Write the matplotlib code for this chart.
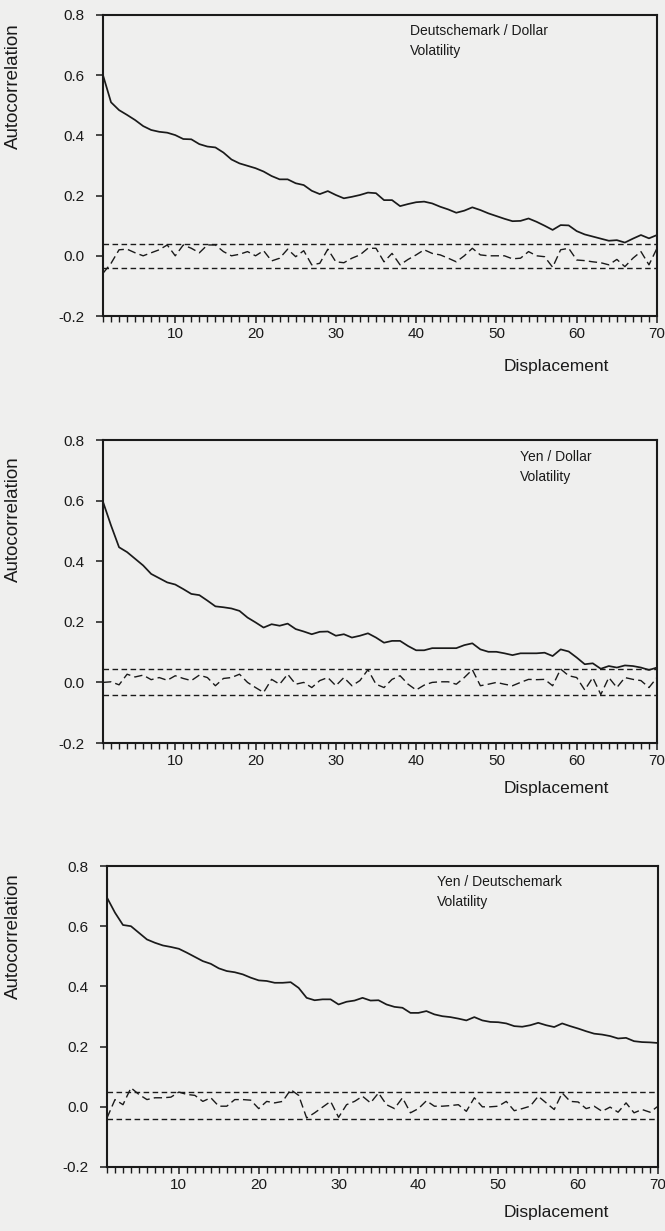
import numpy as np
import matplotlib
matplotlib.use("Agg")
import matplotlib.pyplot as plt
from matplotlib.ticker import MultipleLocator, FormatStrFormatter

plt.rcParams['font.family'] = ['Liberation Sans', 'DejaVu Sans']

lags = list(range(1, 71))

dm_usd_vol = [0.600, 0.510, 0.484, 0.468, 0.451, 0.431, 0.418, 0.412, 0.409, 0.401,
              0.388, 0.387, 0.371, 0.363, 0.360, 0.343, 0.320, 0.307, 0.299, 0.291,
              0.280, 0.265, 0.254, 0.254, 0.241, 0.235, 0.216, 0.205, 0.215, 0.202,
              0.191, 0.196, 0.202, 0.210, 0.208, 0.185, 0.185, 0.165, 0.172, 0.178,
              0.180, 0.174, 0.163, 0.154, 0.143, 0.150, 0.161, 0.152, 0.141, 0.132,
              0.123, 0.115, 0.116, 0.124, 0.113, 0.100, 0.086, 0.102, 0.101, 0.082,
              0.071, 0.064, 0.057, 0.050, 0.052, 0.044, 0.057, 0.069, 0.058, 0.069]
dm_usd_ret = [-0.058, -0.025, 0.020, 0.022, 0.010, 0.000, 0.010, 0.020, 0.036, 0.000,
              0.036, 0.025, 0.010, 0.036, 0.036, 0.014, 0.000, 0.005, 0.014, 0.000,
              0.017, -0.017, -0.008, 0.022, -0.003, 0.017, -0.030, -0.025, 0.022, -0.020,
              -0.023, -0.008, 0.003, 0.025, 0.025, -0.020, 0.008, -0.030, -0.012, 0.003,
              0.020, 0.008, 0.003, -0.008, -0.020, 0.000, 0.025, 0.003, 0.000, 0.000,
              0.000, -0.010, -0.008, 0.014, 0.000, -0.003, -0.038, 0.020, 0.025, -0.014,
              -0.016, -0.020, -0.023, -0.030, -0.012, -0.036, -0.008, 0.014, -0.030, 0.025]

yen_usd_vol = [0.596, 0.518, 0.446, 0.430, 0.408, 0.386, 0.358, 0.344, 0.330, 0.323,
               0.308, 0.292, 0.288, 0.270, 0.251, 0.248, 0.244, 0.236, 0.214, 0.198,
               0.181, 0.192, 0.187, 0.194, 0.176, 0.168, 0.159, 0.167, 0.168, 0.154,
               0.159, 0.148, 0.154, 0.162, 0.148, 0.131, 0.137, 0.137, 0.120, 0.106,
               0.106, 0.113, 0.113, 0.113, 0.113, 0.123, 0.129, 0.109, 0.101, 0.101,
               0.096, 0.090, 0.096, 0.096, 0.096, 0.098, 0.087, 0.109, 0.102, 0.082,
               0.060, 0.063, 0.045, 0.054, 0.049, 0.056, 0.054, 0.049, 0.041, 0.049]
yen_usd_ret = [0.000, 0.002, -0.008, 0.027, 0.018, 0.024, 0.009, 0.016, 0.007, 0.022,
               0.013, 0.006, 0.024, 0.016, -0.011, 0.013, 0.016, 0.027, 0.000, -0.017,
               -0.033, 0.010, -0.006, 0.027, -0.006, 0.000, -0.017, 0.006, 0.016, -0.011,
               0.016, -0.011, 0.006, 0.042, -0.006, -0.017, 0.010, 0.022, -0.006, -0.025,
               -0.009, 0.000, 0.002, 0.002, -0.006, 0.016, 0.042, -0.011, -0.006, 0.000,
               -0.006, -0.011, 0.000, 0.010, 0.009, 0.010, -0.011, 0.044, 0.022, 0.016,
               -0.025, 0.016, -0.040, 0.016, -0.017, 0.016, 0.010, 0.006, -0.017, 0.016]

yen_dm_vol = [0.695, 0.645, 0.604, 0.600, 0.578, 0.556, 0.545, 0.536, 0.531, 0.525,
              0.512, 0.498, 0.484, 0.475, 0.460, 0.451, 0.447, 0.440, 0.429, 0.420,
              0.418, 0.412, 0.412, 0.414, 0.395, 0.362, 0.354, 0.357, 0.357, 0.340,
              0.349, 0.353, 0.362, 0.353, 0.354, 0.340, 0.332, 0.329, 0.312, 0.312,
              0.318, 0.307, 0.301, 0.298, 0.293, 0.287, 0.298, 0.287, 0.282, 0.281,
              0.277, 0.268, 0.266, 0.271, 0.279, 0.271, 0.265, 0.277, 0.268, 0.260,
              0.251, 0.243, 0.240, 0.235, 0.227, 0.229, 0.218, 0.215, 0.214, 0.212]
yen_dm_ret = [-0.037, 0.024, 0.007, 0.063, 0.041, 0.024, 0.030, 0.030, 0.032, 0.049,
              0.041, 0.038, 0.018, 0.030, 0.002, 0.002, 0.024, 0.024, 0.022, -0.006,
              0.018, 0.013, 0.018, 0.057, 0.038, -0.037, -0.020, -0.001, 0.018, -0.035,
              0.007, 0.018, 0.035, 0.013, 0.046, 0.007, -0.006, 0.030, -0.020, -0.006,
              0.020, 0.002, 0.002, 0.004, 0.007, -0.015, 0.030, 0.000, 0.000, 0.002,
              0.018, -0.013, -0.006, 0.002, 0.035, 0.013, -0.009, 0.046, 0.018, 0.016,
              -0.006, 0.002, -0.015, -0.001, -0.018, 0.013, -0.020, -0.009, -0.018, 0.002]

titles = ["Deutschemark / Dollar", "Yen / Dollar", "Yen / Deutschemark"]
bands = [(0.040, -0.040), (0.043, -0.040), (0.050, -0.039)]
vol_series = [dm_usd_vol, yen_usd_vol, yen_dm_vol]
ret_series = [dm_usd_ret, yen_usd_ret, yen_dm_ret]

W, H = 665, 1231
fig = plt.figure(figsize=(W / 100, H / 100), dpi=100)
bg = '#efefee'
fig.patch.set_facecolor(bg)

# pixel boxes: left, right, top, bottom
boxes = [(103, 657, 15, 316), (103, 657, 440, 743), (107, 658, 866, 1167)]
title_pos = [(410, 31), (520, 457), (437, 882)]
disp_y = [366, 789, 1213]
ylab_y = [86, 519, 936]

ink = '#1a1a1a'
for i in range(3):
    l, r, t, b = boxes[i]
    ax = fig.add_axes([l / W, 1 - b / H, (r - l) / W, (b - t) / H])
    ax.set_facecolor(bg)
    ax.plot(lags, vol_series[i], color=ink, lw=1.25)
    ax.plot(lags, ret_series[i], color=ink, lw=1.0, linestyle=(0, (6, 3)))
    up, lo = bands[i]
    ax.axhline(up, color=ink, lw=1.0, linestyle=(0, (4, 2.5)))
    ax.axhline(lo, color=ink, lw=1.0, linestyle=(0, (4, 2.5)))
    ax.set_xlim(1, 70)
    ax.set_ylim(-0.2, 0.8)
    ax.xaxis.set_major_locator(MultipleLocator(10))
    ax.xaxis.set_minor_locator(MultipleLocator(1))
    ax.yaxis.set_major_locator(MultipleLocator(0.2))
    ax.yaxis.set_major_formatter(FormatStrFormatter('%.1f'))
    ax.tick_params(axis='both', which='major', direction='out', length=5, width=1.1,
                   color=ink, labelsize=11, labelcolor=ink, pad=3)
    ax.tick_params(axis='y', which='major', pad=8)
    ax.tick_params(axis='x', which='minor', direction='out', length=4, width=1.0, color=ink)
    for sp in ax.spines.values():
        sp.set_linewidth(1.5)
        sp.set_color(ink)
    tx, ty = title_pos[i]
    fig.text(tx / W, 1 - ty / H, titles[i], fontsize=10, color=ink, ha='left', va='center')
    fig.text(tx / W, 1 - (ty + 20) / H, "Volatility", fontsize=10, color=ink, ha='left', va='center')
    fig.text(556 / W, 1 - disp_y[i] / H, "Displacement", fontsize=12.5, color=ink,
             ha='center', va='center')
    fig.text(13 / W, 1 - ylab_y[i] / H, "Autocorrelation", fontsize=13.5, color=ink,
             rotation=90, ha='center', va='center')

fig.savefig('out.png', dpi=100, facecolor=bg)
